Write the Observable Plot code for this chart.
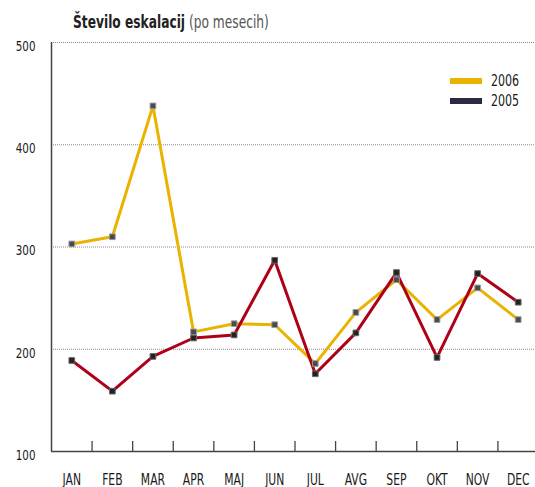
<!DOCTYPE html>
<html>
<head>
<meta charset="utf-8">
<script src="https://cdn.jsdelivr.net/npm/d3@7"></script>
<script src="https://cdn.jsdelivr.net/npm/@observablehq/plot@0.6"></script>
<style>
  html, body { margin: 0; padding: 0; background: #fff; }
  #wrap { position: relative; width: 535px; height: 487px; font-family: "DejaVu Sans Condensed", "DejaVu Sans", sans-serif; font-stretch: condensed; }
  #title { position: absolute; left: 73px; top: 12px; font-size: 17px; color: #222; white-space: nowrap; transform: scaleX(0.8); transform-origin: left center; }
  #title b { font-weight: bold; }
  #title span { color: #555; }
  .leg { position: absolute; left: 450px; font-size: 15px; color: #1a1a1a; display: flex; align-items: center; }
  .leg i { display: inline-block; width: 32px; height: 6px; margin-right: 9px; }
  .leg em { font-style: normal; display: inline-block; transform: scaleX(0.82); transform-origin: left center; }
</style>
</head>
<body>
<div id="wrap">
  <div id="title"><b>Število eskalacij</b> <span>(po mesecih)</span></div>
  <div class="leg" style="top:72px"><i style="background:#E9B300"></i><em>2006</em></div>
  <div class="leg" style="top:92px"><i style="background:#2B2A40"></i><em>2005</em></div>
</div>
<script>
const months = ["JAN","FEB","MAR","APR","MAJ","JUN","JUL","AVG","SEP","OKT","NOV","DEC"];
const values2006 = [303, 310, 438, 217, 225, 224, 186, 236, 268, 229, 260, 229];
const values2005 = [189, 159, 193, 211, 214, 287, 176, 216, 275, 192, 274, 246];
const yTicks = [100, 200, 300, 400, 500];
const gridValues = [200, 300, 400, 500];

const rows = (vals, year) => vals.map((v, i) => ({i, month: months[i], value: v, year}));
const d2006 = rows(values2006, "2006");
const d2005 = rows(values2005, "2005");
const idx = months.map((_, i) => i);
const boundaries = idx.slice(1).map(i => i - 0.5);

const YELLOW = "#E9B300", RED = "#AE0018";
const FONT = '"DejaVu Sans Condensed", "DejaVu Sans", sans-serif';

const chart = Plot.plot({
  width: 535,
  height: 487,
  marginLeft: 51,
  marginRight: 0,
  marginTop: 42,
  marginBottom: 36,
  style: {fontFamily: FONT, fontSize: "13px", color: "#222", background: "#fff", fontStretch: "condensed"},
  x: {domain: [-0.5, 11.5], range: [51, 538], axis: null},
  y: {domain: [100, 500], axis: null},
  marks: [
    Plot.ruleY(gridValues, {stroke: "#8a8a8a", strokeWidth: 1, strokeDasharray: "1,1"}),
    Plot.axisY(yTicks, {tickSize: 0, tickPadding: 16, dy: 4, fontSize: 14, fill: "#1a1a1a", label: null}),
    Plot.axisX(boundaries, {tickSize: 10, dy: -10, tickFormat: () => "", stroke: "#444", strokeWidth: 1.3, label: null}),
    Plot.axisX(idx, {tickSize: 0, tickPadding: 23, tickFormat: i => months[i], fontSize: 15, fill: "#1a1a1a", label: null}),
    Plot.ruleY([100], {stroke: "#444", strokeWidth: 1.5}),
    Plot.ruleX([-0.5], {stroke: "#444", strokeWidth: 1.5}),
    Plot.line(d2006, {x: "i", y: "value", stroke: YELLOW, strokeWidth: 3}),
    Plot.line(d2005, {x: "i", y: "value", stroke: RED, strokeWidth: 3}),
    Plot.dot(d2006, {x: "i", y: "value", symbol: "square", r: 3.2, fill: "#4a4a4a", stroke: "#999", strokeWidth: 1}),
    Plot.dot(d2005, {x: "i", y: "value", symbol: "square", r: 3.2, fill: "#222", stroke: "#666", strokeWidth: 1})
  ]
});
// narrow the tick label glyphs around their own anchor points (condensed look)
chart.querySelectorAll('g[aria-label="x-axis tick label"] text').forEach(t => {
  t.setAttribute("transform", (t.getAttribute("transform") || "") + " scale(0.8,1)");
});
chart.querySelectorAll('g[aria-label="y-axis tick label"] text').forEach(t => {
  t.setAttribute("transform", (t.getAttribute("transform") || "") + " scale(0.82,1)");
});
chart.style.position = "absolute";
chart.style.left = "0";
chart.style.top = "0";
const wrap = document.getElementById("wrap");
wrap.insertBefore(chart, wrap.firstChild);
</script>
</body>
</html>
